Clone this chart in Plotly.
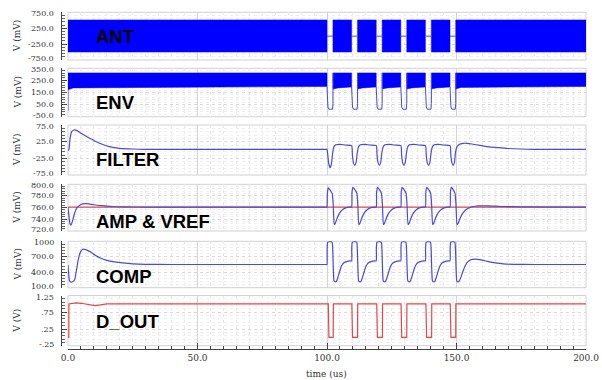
import plotly.graph_objects as go

# ---------------- data ----------------
X_RANGE = [0, 200]
X_TICKS = [0, 50, 100, 150, 200]
X_TICK_LABELS = ["0.0", "50.0", "100.0", "150.0", "200.0"]

# burst gaps of the antenna carrier (us)
GAP_START = [100.0, 109.5, 119.0, 128.5, 138.0, 147.5]
GAP_END = [102.3, 111.8, 121.3, 130.8, 140.3, 149.7]

# ANT: carrier envelope (mV)
ANT_HI = 510
ANT_LO = -500
ANT_IDLE = 0

# ENV: rectified envelope band (mV)
ENV_HI = 312
ENV_LO_START = [172, 178, 178, 178, 178, 178, 178]
ENV_LO_KNEE = [188, 188, 188, 188, 188, 188, 192]
ENV_LO_END = [200, 196, 196, 196, 196, 196, 200]
ENV_IDLE = 12
ENV_INIT = 0

# FILTER (mV)
FILTER_T = [0, 0.3, 0.8, 1.4, 2.3, 3.5, 5, 7, 9, 12, 16, 20, 25, 30, 60, 99.9, 100.0,
            100.3, 100.7, 101.2, 101.7, 102.2, 102.7, 103.4, 105.0, 107.0,
            109.5, 109.8, 110.2, 110.7, 111.2, 111.7, 112.2, 112.9, 114.5, 116.5,
            119.0, 119.3, 119.7, 120.2, 120.7, 121.2, 121.7, 122.4, 124.0, 126.0,
            128.5, 128.8, 129.2, 129.7, 130.2, 130.7, 131.2, 131.9, 133.5, 135.5,
            138.0, 138.3, 138.7, 139.2, 139.7, 140.2, 140.7, 141.4, 143.0, 145.0,
            147.5, 147.8, 148.2, 148.7, 149.2, 149.6, 150.1, 150.9, 152.5, 154.0,
            156, 159, 162, 166, 170, 175, 180, 200]
FILTER_V = [0, 0, 35, 55, 60, 58, 50, 41, 33, 21, 10, 5, 3, 2, 2, 2, 2,
            -15, -42, -53, -42, -8, 10, 16, 17, 15,
            13, -14, -38, -46, -38, -8, 10, 16, 17, 15,
            13, -14, -38, -46, -38, -8, 10, 16, 17, 15,
            13, -14, -38, -46, -38, -8, 10, 16, 17, 15,
            13, -14, -38, -46, -38, -8, 10, 16, 17, 15,
            13, -14, -38, -46, -38, -8, 8, 16, 20, 20,
            18, 14, 10, 7, 4.5, 3, 2, 2]

# AMP (mV)
AMP_T = [0, 0.3, 0.7, 1.1, 1.6, 2.5, 3.5, 5, 6.5, 8, 10, 13, 17, 22, 30, 60, 99.9, 100.0,
         100.15, 100.5, 100.9, 102.0, 102.4, 102.8, 103.2, 103.9, 104.9, 106.1, 107.5, 108.8,
         109.5, 109.65, 110.0, 110.4, 111.5, 111.9, 112.3, 112.7, 113.4, 114.4, 115.6, 117.0, 118.3,
         119.0, 119.15, 119.5, 119.9, 121.0, 121.4, 121.8, 122.2, 122.9, 123.9, 125.1, 126.5, 127.8,
         128.5, 128.65, 129.0, 129.4, 130.5, 130.9, 131.3, 131.7, 132.4, 133.4, 134.6, 136.0, 137.3,
         138.0, 138.15, 138.5, 138.9, 140.0, 140.4, 140.8, 141.2, 141.9, 142.9, 144.1, 145.5, 146.8,
         147.5, 147.65, 148.0, 148.4, 149.4, 149.8, 150.2, 150.6, 151.4, 152.5, 154.0, 156.0, 158.5,
         162, 167, 175, 200]
AMP_V = [760, 748, 733, 730, 735, 750, 760, 765.5, 767, 766.5, 765, 763.5, 762, 761.3, 761, 761, 761, 761,
         785, 794, 792, 784, 765, 731, 733, 742, 751, 757, 760, 761,
         761, 786, 795, 793, 785, 765, 731, 733, 742, 751, 757, 760, 761,
         761, 786, 795, 793, 785, 765, 731, 733, 742, 751, 757, 760, 761,
         761, 786, 795, 793, 785, 765, 731, 733, 742, 751, 757, 760, 761,
         761, 786, 795, 793, 785, 765, 731, 733, 742, 751, 757, 760, 761,
         761, 786, 795, 793, 785, 765, 731, 733, 742, 751, 757.5, 761.5, 763,
         763, 762, 761.3, 761]
VREF_T = [0, 200]
VREF_V = [761, 761]

# COMP (mV)
COMP_T = [0, 0.2, 0.6, 1.0, 1.8, 2.6, 3.3, 4.0, 4.8, 5.7, 6.8, 8.5, 10.5, 12.5, 15, 18, 21, 25, 30, 40, 70, 99.9, 100.0,
          100.05, 100.25, 100.6, 101.95, 102.2, 102.45, 102.7, 103.1, 103.6, 104.2, 104.9, 105.6, 106.4, 107.5, 108.8,
          109.5, 109.55, 109.75, 110.1, 111.45, 111.7, 111.95, 112.2, 112.6, 113.1, 113.7, 114.4, 115.1, 115.9, 117.0, 118.3,
          119.0, 119.05, 119.25, 119.6, 120.95, 121.2, 121.45, 121.7, 122.1, 122.6, 123.2, 123.9, 124.6, 125.4, 126.5, 127.8,
          128.5, 128.55, 128.75, 129.1, 130.45, 130.7, 130.95, 131.2, 131.6, 132.1, 132.7, 133.4, 134.1, 134.9, 136.0, 137.3,
          138.0, 138.05, 138.25, 138.6, 139.95, 140.2, 140.45, 140.7, 141.1, 141.6, 142.2, 142.9, 143.6, 144.4, 145.5, 146.8,
          147.5, 147.55, 147.75, 148.1, 149.35, 149.6, 149.85, 150.1, 150.5, 151.0, 151.7, 152.5, 153.4, 154.5, 156.0, 157.5,
          159.5, 162, 165, 168, 172, 180, 200]
COMP_V = [540, 400, 230, 212, 215, 260, 450, 650, 790, 845, 840, 800, 730, 675, 630, 600, 580, 562, 553, 550, 550, 550, 550,
          850, 980, 992, 985, 850, 450, 235, 215, 220, 300, 420, 520, 580, 605, 620,
          620, 850, 980, 992, 985, 850, 450, 235, 215, 220, 300, 420, 520, 580, 605, 620,
          620, 850, 980, 992, 985, 850, 450, 235, 215, 220, 300, 420, 520, 580, 605, 620,
          620, 850, 980, 992, 985, 850, 450, 235, 215, 220, 300, 420, 520, 580, 605, 620,
          620, 850, 980, 992, 985, 850, 450, 235, 215, 220, 300, 420, 520, 580, 605, 620,
          620, 850, 980, 992, 985, 850, 450, 235, 215, 225, 300, 420, 530, 610, 648, 655,
          640, 610, 580, 562, 553, 550, 550]

# D_OUT (V)
DOUT_T = [0, 0.3, 0.35, 2.2, 3.2, 5, 7, 9, 10.5, 12.5, 15, 100.5]
DOUT_V = [0, 0, 1.0, 1.02, 1.03, 1.02, 0.99, 0.955, 0.95, 0.97, 1.0, 1.0]
DOUT_LOW_START = [100.5, 109.6, 119.2, 128.6, 138.2, 147.6]
DOUT_LOW_END = [102.4, 111.8, 121.4, 130.8, 140.4, 149.7]
DOUT_HI = 1.0
DOUT_LO = 0.0

PANEL_NAMES = ["ANT", "ENV", "FILTER", "AMP & VREF", "COMP", "D_OUT"]
PANEL_UNITS = ["V (mV)", "V (mV)", "V (mV)", "V (mV)", "V (mV)", "V (V)"]
Y_RANGES = [[-750, 750], [-50, 350], [-75, 75], [720, 800], [100, 1000], [-0.25, 1.25]]
Y_TICKS = [[-750, -250, 250, 750], [-50, 50, 150, 250, 350], [-75, -25, 25, 75],
           [720, 740, 760, 780, 800], [100, 400, 700, 1000], [-0.25, 0.25, 0.75, 1.25]]
Y_TICK_LABELS = [["-750.0", "-250.0", "250.0", "750.0"],
                 ["-50.0", "50.0", "150.0", "250.0", "350.0"],
                 ["-75.0", "-25.0", "25.0", "75.0"],
                 ["720.0", "740.0", "760.0", "780.0", "800.0"],
                 ["100.0", "400.0", "700.0", "1000"],
                 ["-.25", ".25", ".75", "1.25"]]
Y_MINOR = [100, 20, 10, 4, 60, 0.1]
LABEL_Y = [0, 67, -28, 736, 315, 0.47]

# ---------------- layout geometry (pixels) ----------------
W, H = 602, 380
PX_LEFT, PX_RIGHT = 68, 586
AXIS_PX = 61
YLABEL_RIGHT_PX = 56
PANEL_PX = [(12.3, 60), (68.3, 116.7), (125, 175), (184.3, 231), (241.3, 287.7), (295.6, 345.7)]
XAXIS_PX = 349

BLUE = "#0000ff"
LINE = "#4a4ad8"
RED = "#e0474c"
FONT = "DejaVu Serif"

def py(p):
    return 1 - p / H

fig = go.Figure()

# ANT band
ant_x, ant_y = [], []
blocks = list(zip([X_RANGE[0]] + GAP_END, GAP_START + [X_RANGE[1]]))
for s, e in blocks:
    ant_x += [s, e, e, s, s, None]
    ant_y += [ANT_HI, ANT_HI, ANT_LO, ANT_LO, ANT_HI, None]
fig.add_trace(go.Scatter(x=ant_x, y=ant_y, fill="toself", fillcolor=BLUE, mode="lines",
                         line=dict(color=BLUE, width=0.5), xaxis="x", yaxis="y", hoverinfo="skip"))
idle_x, idle_y = [], []
for s, e in zip(GAP_START, GAP_END):
    idle_x += [s, e, None]
    idle_y += [ANT_IDLE, ANT_IDLE, None]
fig.add_trace(go.Scatter(x=idle_x, y=idle_y, mode="lines", line=dict(color=LINE, width=1),
                         xaxis="x", yaxis="y", hoverinfo="skip"))

# ENV band
env_x, env_y = [], []
for (s, e), l0, lk, l1 in zip(blocks, ENV_LO_START, ENV_LO_KNEE, ENV_LO_END):
    env_x += [s, e, e, s + 2.0, s, s, None]
    env_y += [ENV_HI, ENV_HI, l1, lk, l0, ENV_HI, None]
fig.add_trace(go.Scatter(x=env_x, y=env_y, fill="toself", fillcolor=BLUE, mode="lines",
                         line=dict(color=BLUE, width=0.5), xaxis="x2", yaxis="y2", hoverinfo="skip"))
envl_x = [0, 0, None]
envl_y = [ENV_INIT, ENV_LO_START[0], None]
for s, e, lo in zip(GAP_START, GAP_END, ENV_LO_END):
    envl_x += [s, s + 0.15, s + 0.35, s + 0.7, e - 0.15, e, e + 0.02, None]
    envl_y += [lo, 120, 30, ENV_IDLE, ENV_IDLE, 60, ENV_HI, None]
fig.add_trace(go.Scatter(x=envl_x, y=envl_y, mode="lines", line=dict(color=LINE, width=1),
                         xaxis="x2", yaxis="y2", hoverinfo="skip"))

# FILTER
fig.add_trace(go.Scatter(x=FILTER_T, y=FILTER_V, mode="lines", line=dict(color=LINE, width=1.2, shape="spline", smoothing=0.6),
                         xaxis="x3", yaxis="y3", hoverinfo="skip"))
# AMP & VREF
fig.add_trace(go.Scatter(x=VREF_T, y=VREF_V, mode="lines", line=dict(color=RED, width=1.2),
                         xaxis="x4", yaxis="y4", hoverinfo="skip"))
fig.add_trace(go.Scatter(x=AMP_T, y=AMP_V, mode="lines", line=dict(color=LINE, width=1.2, shape="spline", smoothing=0.5),
                         xaxis="x4", yaxis="y4", hoverinfo="skip"))
# COMP
fig.add_trace(go.Scatter(x=COMP_T, y=COMP_V, mode="lines", line=dict(color=LINE, width=1.2, shape="spline", smoothing=0.5),
                         xaxis="x5", yaxis="y5", hoverinfo="skip"))
# D_OUT
dx, dy = list(DOUT_T), list(DOUT_V)
for s, e in zip(DOUT_LOW_START, DOUT_LOW_END):
    dx += [s, s + 0.25, e, e + 0.05]
    dy += [DOUT_HI, DOUT_LO, DOUT_LO, DOUT_HI]
dx += [X_RANGE[1]]
dy += [DOUT_HI]
fig.add_trace(go.Scatter(x=dx, y=dy, mode="lines", line=dict(color=RED, width=1.2),
                         xaxis="x6", yaxis="y6", hoverinfo="skip"))

layout = dict(width=W, height=H, margin=dict(l=0, r=0, t=0, b=0, autoexpand=False),
              paper_bgcolor="white", plot_bgcolor="white", showlegend=False,
              font=dict(family=FONT, size=9, color="#333"))
annotations = []
shapes = []
xdom = [PX_LEFT / W, PX_RIGHT / W]
for i in range(6):
    n = "" if i == 0 else str(i + 1)
    top, bot = PANEL_PX[i]
    ydom = [py(bot), py(top)]
    last = i == 5
    xa = dict(domain=xdom, range=X_RANGE, showgrid=True, gridcolor="#d4d4d4", gridwidth=1,
              tickmode="array", tickvals=X_TICKS, ticktext=X_TICK_LABELS if last else [""] * 5,
              showticklabels=last, zeroline=False, showline=False, automargin=False,
              minor=dict(tick0=0, dtick=5, showgrid=True, gridcolor="#e8e8e8", griddash="dot",
                         ticks="inside" if last else "", ticklen=3, tickcolor="#444"),
              ticks="inside" if last else "", ticklen=6, tickcolor="#444",
              tickfont=dict(family=FONT, size=9, color="#333"))
    if last:
        xa.update(anchor="free", position=py(XAXIS_PX), showline=True, linecolor="#444", linewidth=1)
    else:
        xa.update(anchor="y" + n, matches="x6")
    layout["xaxis" + n] = xa
    rng = Y_RANGES[i]
    ya = dict(domain=ydom, range=rng, anchor="free", position=AXIS_PX / W, automargin=False,
              tickmode="array", tickvals=Y_TICKS[i], showticklabels=False,
              ticks="inside", ticklen=5, tickcolor="#444", showline=True, linecolor="#444", linewidth=1,
              showgrid=True, gridcolor="#dadada", griddash="dot", zeroline=False,
              minor=dict(tick0=rng[0], dtick=Y_MINOR[i], ticks="inside", ticklen=3, tickcolor="#666",
                         showgrid=True, gridcolor="#efefef", griddash="dot"))
    layout["yaxis" + n] = ya
    # tick labels, nudged apart at panel edges
    for v, t in zip(Y_TICKS[i], Y_TICK_LABELS[i]):
        shift = 0
        if v == rng[1]:
            shift = -1.5
        elif v == rng[0]:
            shift = 1.5
        annotations.append(dict(text=t, x=YLABEL_RIGHT_PX / W, y=v, xref="paper", yref="y" + n,
                                xanchor="right", yanchor="middle", yshift=shift, showarrow=False,
                                font=dict(family=FONT, size=8, color="#333")))
    shapes.append(dict(type="rect", xref="paper", yref="paper", x0=xdom[0], x1=xdom[1], y0=ydom[0], y1=ydom[1],
                       line=dict(color="#d0d0d0", width=1), layer="below"))
    annotations.append(dict(text="<b>%s</b>" % PANEL_NAMES[i], x=10, y=LABEL_Y[i], xref="x" + n, yref="y" + n,
                            xanchor="left", yanchor="middle", showarrow=False,
                            font=dict(family="Liberation Sans", size=18.5, color="black")))
    annotations.append(dict(text=PANEL_UNITS[i], x=17 / W, y=(ydom[0] + ydom[1]) / 2, xref="paper", yref="paper",
                            textangle=-90, showarrow=False, xanchor="center", yanchor="middle",
                            font=dict(family=FONT, size=9, color="#333")))
annotations.append(dict(text="time (us)", x=(PX_LEFT + PX_RIGHT) / 2 / W, y=py(374), xref="paper", yref="paper",
                        showarrow=False, xanchor="center", yanchor="middle",
                        font=dict(family=FONT, size=9, color="#333")))
layout["annotations"] = annotations
layout["shapes"] = shapes
fig.update_layout(**layout)
fig.write_html("out.html", config=dict(displayModeBar=False),
               post_script="document.body.style.margin='0';document.body.style.overflow='hidden';")
